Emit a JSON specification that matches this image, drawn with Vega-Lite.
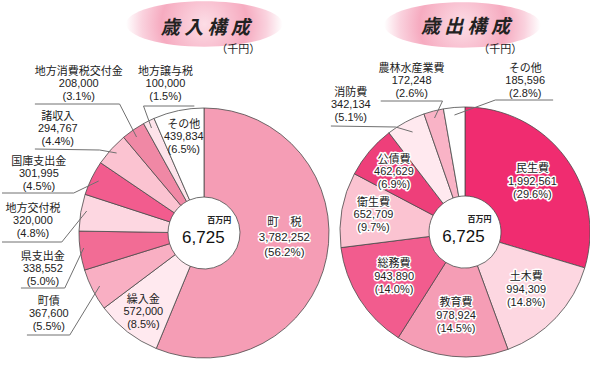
{
  "$schema": "https://vega.github.io/schema/vega-lite/v6.json",
  "width": 590,
  "height": 381,
  "autosize": {"type": "fit", "contains": "padding"},
  "padding": 0,
  "background": "white",
  "config": {"view": {"stroke": null}, "font": "Liberation Sans, Noto Sans CJK JP", "text": {"font": "Liberation Sans, Noto Sans CJK JP"}},
  "datasets": {
    "rev": [
      {"item": "町税", "value": 3782252, "pct": 56.2, "rank": 1},
      {"item": "繰入金", "value": 572000, "pct": 8.5, "rank": 2},
      {"item": "町債", "value": 367600, "pct": 5.5, "rank": 3},
      {"item": "県支出金", "value": 338552, "pct": 5.0, "rank": 4},
      {"item": "地方交付税", "value": 320000, "pct": 4.8, "rank": 5},
      {"item": "国庫支出金", "value": 301995, "pct": 4.5, "rank": 6},
      {"item": "諸収入", "value": 294767, "pct": 4.4, "rank": 7},
      {"item": "地方消費税交付金", "value": 208000, "pct": 3.1, "rank": 8},
      {"item": "地方譲与税", "value": 100000, "pct": 1.5, "rank": 9},
      {"item": "その他", "value": 439834, "pct": 6.5, "rank": 10}
    ],
    "exp": [
      {"item": "民生費", "value": 1992561, "pct": 29.6, "rank": 1},
      {"item": "土木費", "value": 994309, "pct": 14.8, "rank": 2},
      {"item": "教育費", "value": 978924, "pct": 14.5, "rank": 3},
      {"item": "総務費", "value": 943890, "pct": 14.0, "rank": 4},
      {"item": "衛生費", "value": 652709, "pct": 9.7, "rank": 5},
      {"item": "公債費", "value": 462629, "pct": 6.9, "rank": 6},
      {"item": "消防費", "value": 342134, "pct": 5.1, "rank": 7},
      {"item": "農林水産業費", "value": 172248, "pct": 2.6, "rank": 8},
      {"item": "その他", "value": 185596, "pct": 2.8, "rank": 9}
    ],
    "titles": [
      {"title": "歳 入 構 成", "x": 204, "y": 28, "unit": "（千円）", "ux": 237, "uy": 50, "gx": 203, "gy": 24},
      {"title": "歳 出 構 成", "x": 465, "y": 27, "unit": "（千円）", "ux": 500, "uy": 50, "gx": 462, "gy": 25}
    ],
    "centers": [
      {"pie": "歳入", "total": 6725, "x": 202, "y": 233},
      {"pie": "歳出", "total": 6725, "x": 463, "y": 232}
    ],
    "callouts": [
      {"pie": "rev", "item": "地方消費税交付金", "x": 77, "y": 84},
      {"pie": "rev", "item": "地方譲与税", "x": 164, "y": 84},
      {"pie": "rev", "item": "諸収入", "x": 56, "y": 129},
      {"pie": "rev", "item": "国庫支出金", "x": 37, "y": 174},
      {"pie": "rev", "item": "地方交付税", "x": 31, "y": 221},
      {"pie": "rev", "item": "県支出金", "x": 41, "y": 269},
      {"pie": "rev", "item": "町債", "x": 47, "y": 314},
      {"pie": "exp", "item": "消防費", "x": 350, "y": 105},
      {"pie": "exp", "item": "農林水産業費", "x": 411, "y": 81},
      {"pie": "exp", "item": "その他", "x": 525, "y": 81}
    ],
    "leaders": [
      {"id": "L1", "seq": 1, "x": 135, "y": 137}, {"id": "L1", "seq": 2, "x": 118, "y": 104}, {"id": "L1", "seq": 3, "x": 33, "y": 104},
      {"id": "L2", "seq": 1, "x": 150, "y": 128}, {"id": "L2", "seq": 2, "x": 142, "y": 106}, {"id": "L2", "seq": 3, "x": 193, "y": 106},
      {"id": "L3", "seq": 1, "x": 115, "y": 153}, {"id": "L3", "seq": 2, "x": 98, "y": 150}, {"id": "L3", "seq": 3, "x": 33, "y": 149},
      {"id": "L4", "seq": 1, "x": 97, "y": 181}, {"id": "L4", "seq": 2, "x": 72, "y": 193}, {"id": "L4", "seq": 3, "x": 0, "y": 193},
      {"id": "L5", "seq": 1, "x": 85, "y": 211}, {"id": "L5", "seq": 2, "x": 60, "y": 242}, {"id": "L5", "seq": 3, "x": 0, "y": 242},
      {"id": "L6", "seq": 1, "x": 82, "y": 248}, {"id": "L6", "seq": 2, "x": 63, "y": 288}, {"id": "L6", "seq": 3, "x": 19, "y": 288},
      {"id": "L7", "seq": 1, "x": 98, "y": 286}, {"id": "L7", "seq": 2, "x": 68, "y": 335}, {"id": "L7", "seq": 3, "x": 25, "y": 335},
      {"id": "R1", "seq": 1, "x": 412, "y": 132}, {"id": "R1", "seq": 2, "x": 395, "y": 127}, {"id": "R1", "seq": 3, "x": 330, "y": 126},
      {"id": "R2", "seq": 1, "x": 434, "y": 118}, {"id": "R2", "seq": 2, "x": 442, "y": 101}, {"id": "R2", "seq": 3, "x": 380, "y": 101},
      {"id": "R3", "seq": 1, "x": 454, "y": 115}, {"id": "R3", "seq": 2, "x": 495, "y": 100}, {"id": "R3", "seq": 3, "x": 553, "y": 100}
    ]
  },
  "layer": [
    {
      "data": {"name": "titles"},
      "mark": {
        "type": "point",
        "shape": "M -1 0 A 1 0.29 0 1 1 1 0 A 1 0.29 0 1 1 -1 0 Z",
        "size": 24500,
        "filled": true,
        "opacity": 1,
        "strokeWidth": 0,
        "color": {
          "gradient": "radial",
          "x1": 0.5, "y1": 0.5, "r1": 0,
          "x2": 0.5, "y2": 0.5, "r2": 0.5,
          "stops": [
            {"offset": 0, "color": "#fcdde6"},
            {"offset": 0.55, "color": "#f6abc0"},
            {"offset": 0.8, "color": "#fad2de"},
            {"offset": 1, "color": "#ffffff"}
          ]
        }
      },
      "encoding": {
        "x": {"field": "gx", "type": "quantitative", "scale": {"domain": [0, 590], "nice": false, "zero": false}, "axis": null},
        "y": {"field": "gy", "type": "quantitative", "scale": {"domain": [0, 381], "nice": false, "zero": false, "reverse": true}, "axis": null}
      }
    },
    {
      "data": {"name": "titles"},
      "mark": {"type": "text", "font": "Noto Sans CJK JP", "fontSize": 19, "fontWeight": "bold", "fontStyle": "italic", "color": "#222222", "align": "center", "baseline": "middle"},
      "encoding": {
        "x": {"field": "x", "type": "quantitative", "scale": {"domain": [0, 590], "nice": false, "zero": false}, "axis": null},
        "y": {"field": "y", "type": "quantitative", "scale": {"domain": [0, 381], "nice": false, "zero": false, "reverse": true}, "axis": null},
        "text": {"field": "title", "type": "nominal"}
      }
    },
    {
      "data": {"name": "titles"},
      "mark": {"type": "text", "font": "Noto Sans CJK JP", "fontSize": 11, "color": "#222222", "align": "center", "baseline": "middle"},
      "encoding": {
        "x": {"field": "ux", "type": "quantitative", "scale": {"domain": [0, 590], "nice": false, "zero": false}, "axis": null},
        "y": {"field": "uy", "type": "quantitative", "scale": {"domain": [0, 381], "nice": false, "zero": false, "reverse": true}, "axis": null},
        "text": {"field": "unit", "type": "nominal"}
      }
    },
    {
      "data": {"name": "rev"},
      "mark": {"type": "arc", "x": 202, "y": 233, "outerRadius": 125, "innerRadius": 36, "stroke": "#4a4a4a", "strokeWidth": 0.8},
      "encoding": {
        "theta": {"field": "value", "type": "quantitative", "stack": true},
        "order": {"field": "rank", "type": "quantitative"},
        "color": {
          "field": "item", "type": "nominal", "legend": null,
          "scale": {
            "domain": ["町税", "繰入金", "町債", "県支出金", "地方交付税", "国庫支出金", "諸収入", "地方消費税交付金", "地方譲与税", "その他", "民生費", "土木費", "教育費", "総務費", "衛生費", "公債費", "消防費", "農林水産業費"],
            "range": ["#f59db5", "#ffe9ef", "#f9afc3", "#f26c95", "#fdd7e1", "#f25c8e", "#fbc3d1", "#f088a5", "#fde3ea", "#ffffff", "#f02c70", "#fdd7e1", "#f59db5", "#f25c8e", "#fbc3d1", "#ee3f7a", "#ffe9ef", "#f9b3c6"]
          }
        }
      }
    },
    {
      "data": {"name": "exp"},
      "mark": {"type": "arc", "x": 463, "y": 232, "outerRadius": 125, "innerRadius": 36, "stroke": "#4a4a4a", "strokeWidth": 0.8},
      "encoding": {
        "theta": {"field": "value", "type": "quantitative", "stack": true},
        "order": {"field": "rank", "type": "quantitative"},
        "color": {"field": "item", "type": "nominal", "legend": null}
      }
    },
    {
      "data": {"name": "leaders"},
      "mark": {"type": "line", "color": "#707070", "strokeWidth": 1},
      "encoding": {
        "x": {"field": "x", "type": "quantitative", "scale": {"domain": [0, 590], "nice": false, "zero": false}, "axis": null},
        "y": {"field": "y", "type": "quantitative", "scale": {"domain": [0, 381], "nice": false, "zero": false, "reverse": true}, "axis": null},
        "detail": {"field": "id", "type": "nominal"},
        "order": {"field": "seq", "type": "quantitative"}
      }
    },
    {
      "data": {"name": "callouts"},
      "transform": [
        {"filter": "datum.pie === 'rev'"},
        {"lookup": "item", "from": {"data": {"name": "rev"}, "key": "item", "fields": ["value", "pct"]}},
        {"calculate": "[datum.item, format(datum.value, ','), '(' + format(datum.pct, '.1f') + '%)']", "as": "lines"}
      ],
      "mark": {"type": "text", "fontSize": 11, "lineHeight": 12.5, "dy": -12.5, "color": "#222222", "align": "center", "baseline": "middle"},
      "encoding": {
        "x": {"field": "x", "type": "quantitative", "scale": {"domain": [0, 590], "nice": false, "zero": false}, "axis": null},
        "y": {"field": "y", "type": "quantitative", "scale": {"domain": [0, 381], "nice": false, "zero": false, "reverse": true}, "axis": null},
        "text": {"field": "lines", "type": "nominal"}
      }
    },
    {
      "data": {"name": "callouts"},
      "transform": [
        {"filter": "datum.pie === 'exp'"},
        {"lookup": "item", "from": {"data": {"name": "exp"}, "key": "item", "fields": ["value", "pct"]}},
        {"calculate": "[datum.item, format(datum.value, ','), '(' + format(datum.pct, '.1f') + '%)']", "as": "lines"}
      ],
      "mark": {"type": "text", "fontSize": 11, "lineHeight": 12.5, "dy": -12.5, "color": "#222222", "align": "center", "baseline": "middle"},
      "encoding": {
        "x": {"field": "x", "type": "quantitative", "scale": {"domain": [0, 590], "nice": false, "zero": false}, "axis": null},
        "y": {"field": "y", "type": "quantitative", "scale": {"domain": [0, 381], "nice": false, "zero": false, "reverse": true}, "axis": null},
        "text": {"field": "lines", "type": "nominal"}
      }
    },
    {
      "data": {"name": "rev"},
      "transform": [
        {"stack": "value", "groupby": [], "sort": [{"field": "rank", "order": "ascending"}], "as": ["v0", "v1"]},
        {"calculate": "(datum.v0 + datum.v1) / 2", "as": "mid"},
        {"filter": "datum.item === '町税'"},
        {"calculate": "['町　税', format(datum.value, ','), '(' + format(datum.pct, '.1f') + '%)']", "as": "lines"}
      ],
      "encoding": {
        "theta": {"field": "mid", "type": "quantitative", "stack": null},
        "text": {"field": "lines", "type": "nominal"}
      },
      "layer": [
        {"mark": {"type": "text", "x": 202, "y": 233, "radius": 82, "dy": -26, "fontSize": 11.5, "lineHeight": 15, "align": "center", "baseline": "middle", "color": "white", "stroke": "white", "strokeWidth": 3, "strokeJoin": "round"}},
        {"mark": {"type": "text", "x": 202, "y": 233, "radius": 82, "dy": -26, "fontSize": 11.5, "lineHeight": 15, "align": "center", "baseline": "middle", "color": "#222222"}}
      ]
    },
    {
      "data": {"name": "rev"},
      "transform": [
        {"stack": "value", "groupby": [], "sort": [{"field": "rank", "order": "ascending"}], "as": ["v0", "v1"]},
        {"calculate": "(datum.v0 + datum.v1) / 2", "as": "mid"},
        {"filter": "indexof(['繰入金', 'その他'], datum.item) >= 0"},
        {"calculate": "[datum.item, format(datum.value, ','), '(' + format(datum.pct, '.1f') + '%)']", "as": "lines"}
      ],
      "mark": {"type": "text", "x": 202, "y": 233, "radius": 99, "dy": -11.5, "fontSize": 11, "lineHeight": 12.5, "align": "center", "baseline": "middle", "color": "#222222"},
      "encoding": {
        "theta": {"field": "mid", "type": "quantitative", "stack": null},
        "text": {"field": "lines", "type": "nominal"}
      }
    },
    {
      "data": {"name": "exp"},
      "transform": [
        {"stack": "value", "groupby": [], "sort": [{"field": "rank", "order": "ascending"}], "as": ["v0", "v1"]},
        {"calculate": "(datum.v0 + datum.v1) / 2", "as": "mid"},
        {"filter": "indexof(['民生費', '土木費', '教育費', '総務費'], datum.item) >= 0"},
        {"calculate": "[datum.item, format(datum.value, ','), '(' + format(datum.pct, '.1f') + '%)']", "as": "lines"}
      ],
      "encoding": {
        "theta": {"field": "mid", "type": "quantitative", "stack": null},
        "text": {"field": "lines", "type": "nominal"}
      },
      "layer": [
        {"mark": {"type": "text", "x": 463, "y": 232, "radius": 84, "dy": -13, "fontSize": 11, "lineHeight": 13, "align": "center", "baseline": "middle", "color": "white", "stroke": "white", "strokeWidth": 3, "strokeJoin": "round"}},
        {"mark": {"type": "text", "x": 463, "y": 232, "radius": 84, "dy": -13, "fontSize": 11, "lineHeight": 13, "align": "center", "baseline": "middle", "color": "#222222"}}
      ]
    },
    {
      "data": {"name": "exp"},
      "transform": [
        {"stack": "value", "groupby": [], "sort": [{"field": "rank", "order": "ascending"}], "as": ["v0", "v1"]},
        {"calculate": "(datum.v0 + datum.v1) / 2", "as": "mid"},
        {"filter": "indexof(['衛生費', '公債費'], datum.item) >= 0"},
        {"calculate": "[datum.item, format(datum.value, ','), '(' + format(datum.pct, '.1f') + '%)']", "as": "lines"}
      ],
      "encoding": {
        "theta": {"field": "mid", "type": "quantitative", "stack": null},
        "text": {"field": "lines", "type": "nominal"}
      },
      "layer": [
        {"mark": {"type": "text", "x": 463, "y": 232, "radius": 93, "dy": -12.5, "fontSize": 11, "lineHeight": 12.5, "align": "center", "baseline": "middle", "color": "white", "stroke": "white", "strokeWidth": 3, "strokeJoin": "round"}},
        {"mark": {"type": "text", "x": 463, "y": 232, "radius": 93, "dy": -12.5, "fontSize": 11, "lineHeight": 12.5, "align": "center", "baseline": "middle", "color": "#222222"}}
      ]
    },
    {
      "data": {"name": "centers"},
      "mark": {"type": "text", "fontSize": 17, "dy": 5, "align": "center", "baseline": "middle", "color": "#111111"},
      "encoding": {
        "x": {"field": "x", "type": "quantitative", "scale": {"domain": [0, 590], "nice": false, "zero": false}, "axis": null},
        "y": {"field": "y", "type": "quantitative", "scale": {"domain": [0, 381], "nice": false, "zero": false, "reverse": true}, "axis": null},
        "text": {"field": "total", "type": "quantitative", "format": ","}
      }
    },
    {
      "data": {"name": "centers"},
      "mark": {"type": "text", "font": "Noto Sans CJK JP", "fontSize": 8, "fontWeight": "bold", "dx": 16, "dy": -12, "align": "center", "baseline": "middle", "color": "#222222"},
      "encoding": {
        "x": {"field": "x", "type": "quantitative", "scale": {"domain": [0, 590], "nice": false, "zero": false}, "axis": null},
        "y": {"field": "y", "type": "quantitative", "scale": {"domain": [0, 381], "nice": false, "zero": false, "reverse": true}, "axis": null},
        "text": {"value": "百万円"}
      }
    }
  ]
}
